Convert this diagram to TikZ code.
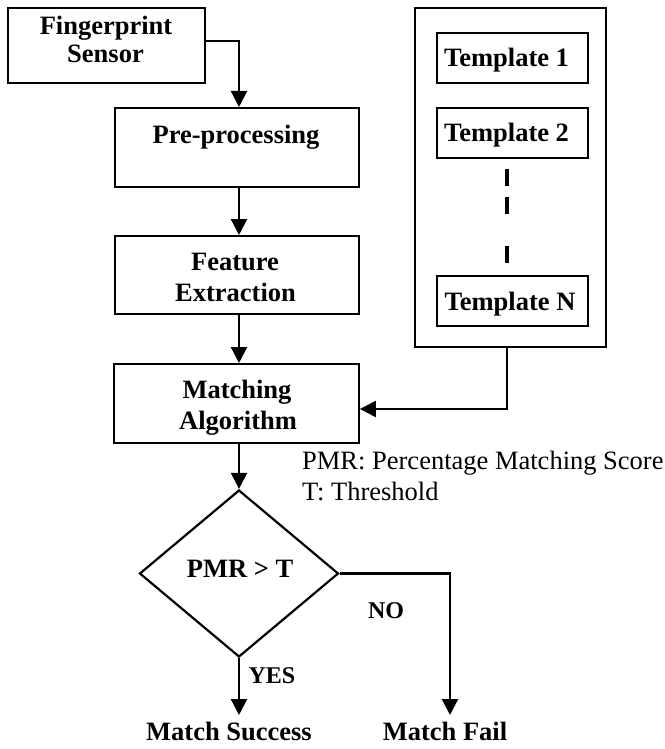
\documentclass[tikz,border=0pt]{standalone}
\usepackage{fontspec}
\setmainfont{Liberation Serif}
\usetikzlibrary{arrows.meta,shapes.geometric}
\begin{document}
\begin{tikzpicture}[x=1pt,y=-1pt,
  box/.style={draw,line width=1.9pt,inner sep=0pt,anchor=north west},
  arr/.style={line width=2.2pt,-{Triangle[width=16pt,length=16pt]}},
  lbl/.style={inner sep=0pt,anchor=base,font=\fontsize{26.5}{31}\selectfont\bfseries},
  note/.style={inner sep=0pt,anchor=base west,font=\fontsize{26.5}{31}\selectfont},
  dashbar/.style={line width=3.5pt}]
\useasboundingbox (0,0) rectangle (664,749);

% processing chain
\node[box,minimum width=197pt,minimum height=75pt] (sensor) at (7,7) {};
\node[box,minimum width=244pt,minimum height=79pt] (pre) at (114,107) {};
\node[box,minimum width=244pt,minimum height=78pt] (feat) at (114,235) {};
\node[box,minimum width=245pt,minimum height=79pt] (match) at (113,363) {};

\node[lbl] (fs1) at (106,35) {Fingerprint};
\node[lbl] (fs2) at (105.5,63) {Sensor};
\node[lbl] (pp) at (236,143) {Pre-processing};
\node[lbl] (fe1) at (235,270) {Feature};
\node[lbl] (fe2) at (235.5,301) {Extraction};
\node[lbl] (ma1) at (237,398) {Matching};
\node[lbl] (ma2) at (238,429) {Algorithm};

% template store
\node[box,line width=2.2pt,minimum width=191pt,minimum height=339pt] (store) at (414,7) {};
\node[box,minimum width=151pt,minimum height=50pt] (t1) at (436,32) {};
\node[box,minimum width=151pt,minimum height=50pt] (t2) at (436,107) {};
\node[box,minimum width=151pt,minimum height=50pt] (tn) at (436,275) {};
\node[lbl] (t1l) at (506.5,67) {Template 1};
\node[lbl] (t2l) at (506.5,142) {Template 2};
\node[lbl] (tnl) at (510,310) {Template N};
\coordinate (d1a) at (507,169); \coordinate (d1b) at (507,186);
\coordinate (d2a) at (507,197); \coordinate (d2b) at (507,214);
\coordinate (d3a) at (507,246); \coordinate (d3b) at (507,263);
\draw[dashbar] (d1a) -- (d1b) (d2a) -- (d2b) (d3a) -- (d3b);

% decision
\node[draw,diamond,line width=2.2pt,inner sep=0pt,aspect=1.19,
      minimum width=199pt,minimum height=167pt] (dec) at (239,573.5) {};
\node[lbl] (decl) at (240,577) {PMR > T};

\node[note] (n1) at (302,469) {PMR: Percentage Matching Score};
\node[note] (n2) at (302,500) {T: Threshold};

\node[lbl] (succ) at (229,740) {Match Success};
\node[lbl] (fail) at (445,740) {Match Fail};
\node[lbl,font=\fontsize{24}{28}\selectfont\bfseries] (yes) at (272,683) {YES};
\node[lbl,font=\fontsize{24}{28}\selectfont\bfseries] (no) at (386,618) {NO};

% connectors
\coordinate (col) at (239,0);
\coordinate (sx) at (0,41);
\draw[arr] (sensor.east |- sx) -| (pre.north -| col);
\draw[arr] (pre.south -| col) -- (feat.north -| col);
\draw[arr] (feat.south -| col) -- (match.north -| col);
\draw[arr] (match.south -| col) -- (dec.north);
\coordinate (tap) at (507,346);
\coordinate (hy) at (0,409);
\draw[arr] (tap) |- (match.east |- hy);
\coordinate (ok) at (239,715);
\coordinate (nk) at (450,715);
\draw[arr] (dec.south) -- (ok);
\draw[arr] (dec.east) -| (nk);
\end{tikzpicture}
\end{document}
